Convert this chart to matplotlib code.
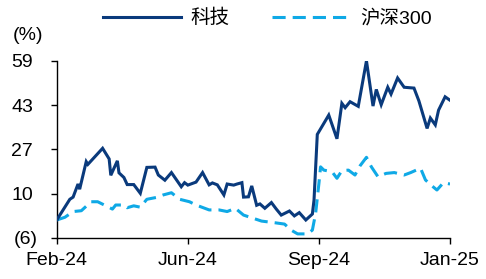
import matplotlib
matplotlib.use("Agg")
import matplotlib.pyplot as plt
from matplotlib.ticker import FixedLocator, FuncFormatter
from matplotlib.transforms import ScaledTranslation

plt.rcParams['font.family'] = ['Liberation Sans', 'Noto Sans CJK SC']

# trading-day index (Feb-24 = 0, Jan-25 = 240) and cumulative return (%)
tech_x = [0, 8, 10, 13, 14, 18, 19, 28, 32, 33, 37, 38, 41, 43, 47, 51, 55, 60,
          62, 66, 70, 76, 78, 80, 85, 89, 93, 95, 98, 102, 104, 108, 110, 113,
          114, 117, 119, 122, 124, 127, 131, 134, 137, 142, 145, 148, 152, 156,
          157, 159, 166, 171, 174, 176, 179, 184, 189, 193, 195, 198, 202, 204,
          208, 212, 218, 221, 226, 228, 231, 233, 237, 241]
tech_y = [0.6, 8.2, 9.0, 13.8, 11.9, 22.0, 21.0, 26.9, 23.0, 17.0, 22.3, 17.9,
          16.2, 13.6, 13.6, 10.4, 19.9, 20.0, 17.1, 15.2, 18.0, 12.8, 14.3, 13.4,
          14.5, 18.0, 13.5, 14.2, 13.5, 9.8, 13.8, 13.4, 13.8, 14.3, 9.0, 9.1,
          13.1, 6.0, 6.5, 4.9, 7.0, 4.6, 2.4, 3.9, 2.1, 3.3, 0.6, 2.8, 7.9, 32.0,
          39.1, 30.4, 43.4, 41.8, 44.0, 42.3, 59.0, 42.4, 48.5, 42.9, 49.3, 46.8,
          52.7, 49.3, 49.0, 44.3, 34.2, 38.0, 35.5, 40.9, 45.8, 44.1]

hs300_x = [0, 5, 10, 15, 21, 25, 31, 34, 36, 41, 43, 47, 51, 55, 61, 65, 70, 75,
           81, 85, 93, 99, 104, 109, 114, 118, 121, 125, 133, 139, 143, 147, 153,
           156, 158, 160, 161, 163, 168, 171, 174, 178, 182, 185, 189, 192, 196,
           201, 206, 212, 216, 222, 225, 229, 232, 236, 240]
hs300_y = [0.6, 1.6, 3.7, 4.0, 7.3, 7.3, 5.5, 4.6, 6.1, 6.1, 5.1, 5.8, 5.3, 8.2,
           8.9, 9.8, 10.6, 8.2, 7.3, 6.1, 4.3, 4.3, 3.7, 4.9, 2.4, 1.6, 1.0, 0.2,
           -0.4, -0.9, -3.1, -4.5, -4.5, -3.1, 3.1, 14.1, 20.1, 18.9, 18.3, 15.9,
           18.7, 18.9, 17.1, 20.4, 23.6, 20.1, 16.5, 17.7, 18.0, 17.1, 18.0, 19.6,
           15.3, 13.1, 11.6, 14.3, 13.8]

tick_pos = [0, 80, 160, 240]
tick_labels = ['Feb-24', 'Jun-24', 'Sep-24', 'Jan-25']
y_ticks = [-6, 10.25, 26.5, 42.75, 59]


def fmt(v, pos):
    if v < 0:
        return '(%d)' % round(-v)
    return '%d' % round(v + 1e-9)


fig = plt.figure(figsize=(4.86, 2.79), dpi=100)
ax = fig.add_axes([0.1167, 0.147, 0.8093, 0.635])

ax.plot(tech_x, tech_y, color='#0a3a7c', lw=2.2, label='科技',
        solid_joinstyle='miter', zorder=3)
ax.plot(hs300_x, hs300_y, color='#0fa9e6', lw=2.2, dashes=(4.3, 2.3),
        label='沪深300', zorder=2)

ax.set_xlim(0, 240)
ax.set_ylim(-6, 59)
ax.set_xticks(tick_pos)
ax.set_xticklabels(tick_labels)
ax.yaxis.set_major_locator(FixedLocator(y_ticks))
ax.yaxis.set_major_formatter(FuncFormatter(fmt))

for s in ['top', 'right']:
    ax.spines[s].set_visible(False)
for s in ['left', 'bottom']:
    ax.spines[s].set_linewidth(1.0)
    ax.spines[s].set_color('black')
ax.tick_params(axis='both', direction='out', length=4.3, width=1.0,
               labelsize=14, colors='black')
ax.tick_params(axis='y', pad=9)
ax.tick_params(axis='x', pad=6)

# positive numbers leave room for a ")" like the Excel number format
for tick, v in zip(ax.yaxis.get_major_ticks(), y_ticks):
    if v >= 0:
        lab = tick.label1
        lab.set_transform(lab.get_transform() +
                          ScaledTranslation(-0.05, 0, fig.dpi_scale_trans))

fig.text(0.027, 1 - 36 / 279, '(%)', fontsize=14, va='center', ha='left')

fig.legend(loc='center', bbox_to_anchor=(0.55, 0.935), ncol=2, frameon=False,
           fontsize=14, handlelength=4.0, handletextpad=0.5, columnspacing=2.2)

fig.savefig('out.png', dpi=100)
